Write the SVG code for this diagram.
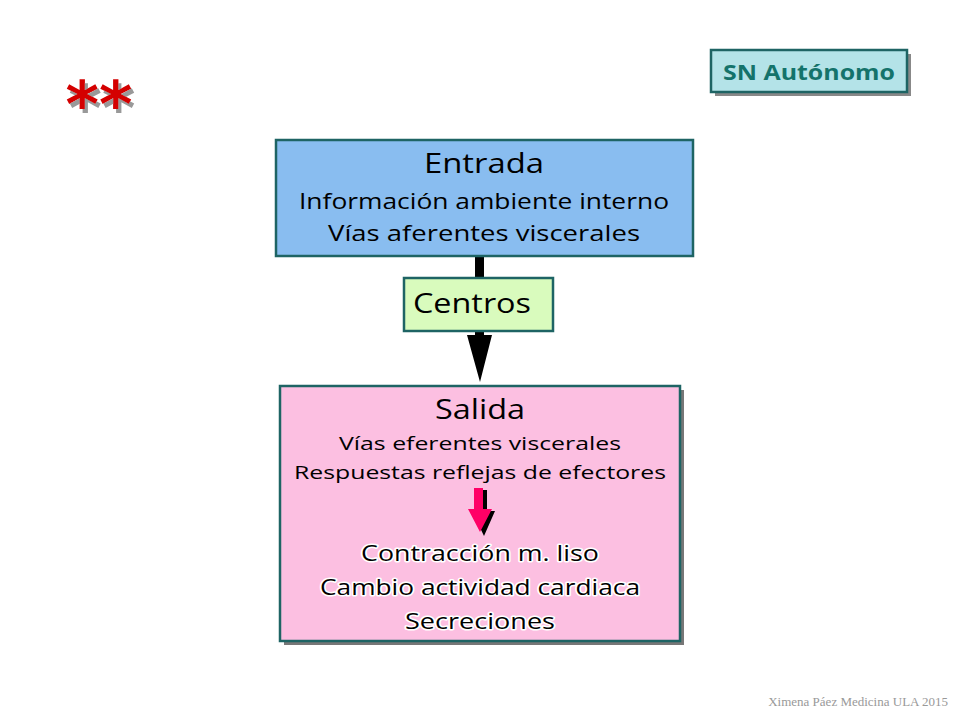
<svg xmlns="http://www.w3.org/2000/svg" width="960" height="720" viewBox="0 0 960 720">
<style>
.t{font-family:"Open Sans","DejaVu Sans",sans-serif;fill:#000;text-anchor:middle}
.box{stroke:#1e6464;stroke-width:2.5}
.glow{stroke:#fff;stroke-width:3;paint-order:stroke;stroke-linejoin:round}
</style>
<defs>
<filter id="sh" x="-20%" y="-20%" width="150%" height="150%">
<feOffset in="SourceAlpha" dx="3" dy="4" result="o"/>
<feFlood flood-color="#999"/>
<feComposite in2="o" operator="in" result="s"/>
<feMerge><feMergeNode in="s"/><feMergeNode in="SourceGraphic"/></feMerge>
</filter>
</defs>
<rect width="960" height="720" fill="#fff"/>
<g id="stars">
<text x="99" y="127" font-family="DejaVu Sans,sans-serif" font-weight="bold" font-size="64" fill="#d40000" text-anchor="middle" filter="url(#sh)">**</text>
</g>
<g id="sn">
<rect x="715" y="54" width="196" height="42" fill="#888"/>
<rect x="711" y="50" width="196" height="42" fill="#b4e3e8" class="box"/>
<text x="809" y="80" font-family="Open Sans,DejaVu Sans,sans-serif" font-weight="bold" font-size="21" fill="#14736b" text-anchor="middle" textLength="172" lengthAdjust="spacingAndGlyphs">SN Autónomo</text>
</g>
<g id="connectors">
<rect x="475" y="256" width="9" height="24" fill="#000"/>
<polygon points="475,331 484,331 484,335 492,335 480,382 467,335 475,335" fill="#000"/>
</g>
<g id="entrada">
<rect x="276" y="140" width="417" height="116" fill="#89bdf0" class="box"/>
<text class="t" x="484" y="173" font-size="27" textLength="120" lengthAdjust="spacingAndGlyphs">Entrada</text>
<text class="t" x="484" y="209" font-size="21" textLength="370" lengthAdjust="spacingAndGlyphs">Información ambiente interno</text>
<text class="t" x="484" y="241" font-size="21" textLength="312" lengthAdjust="spacingAndGlyphs">Vías aferentes viscerales</text>
</g>
<g id="centros">
<rect x="404" y="278" width="149" height="53" fill="#d9fbbd" class="box"/>
<text class="t" x="472" y="313" font-size="27" textLength="118" lengthAdjust="spacingAndGlyphs">Centros</text>
</g>
<g id="salida">
<rect x="284" y="390" width="400" height="255" fill="#777"/>
<rect x="280" y="386" width="400" height="255" fill="#fcbfe1" class="box"/>
<text class="t" x="480" y="419" font-size="27" textLength="90" lengthAdjust="spacingAndGlyphs">Salida</text>
<text class="t" x="480" y="450" font-size="19" textLength="282" lengthAdjust="spacingAndGlyphs">Vías eferentes viscerales</text>
<text class="t" x="480" y="479" font-size="19" textLength="372" lengthAdjust="spacingAndGlyphs">Respuestas reflejas de efectores</text>
<polygon points="478,490 487,490 487,511 495,511 484,536 472,511 478,511" fill="#000"/>
<polygon points="474,488 483,488 483,509 492,509 480,532 468,509 474,509" fill="#ff0066"/>
<g font-size="22">
<text class="t glow" x="480" y="561" textLength="238" lengthAdjust="spacingAndGlyphs">Contracción m. liso</text>
<text class="t glow" x="480" y="595" textLength="320" lengthAdjust="spacingAndGlyphs">Cambio actividad cardiaca</text>
<text class="t glow" x="480" y="629" textLength="150" lengthAdjust="spacingAndGlyphs">Secreciones</text>
</g>
</g>
<text x="948" y="706" font-family="Liberation Serif,serif" font-size="13" fill="#999" text-anchor="end">Ximena Páez Medicina ULA 2015</text>
</svg>
